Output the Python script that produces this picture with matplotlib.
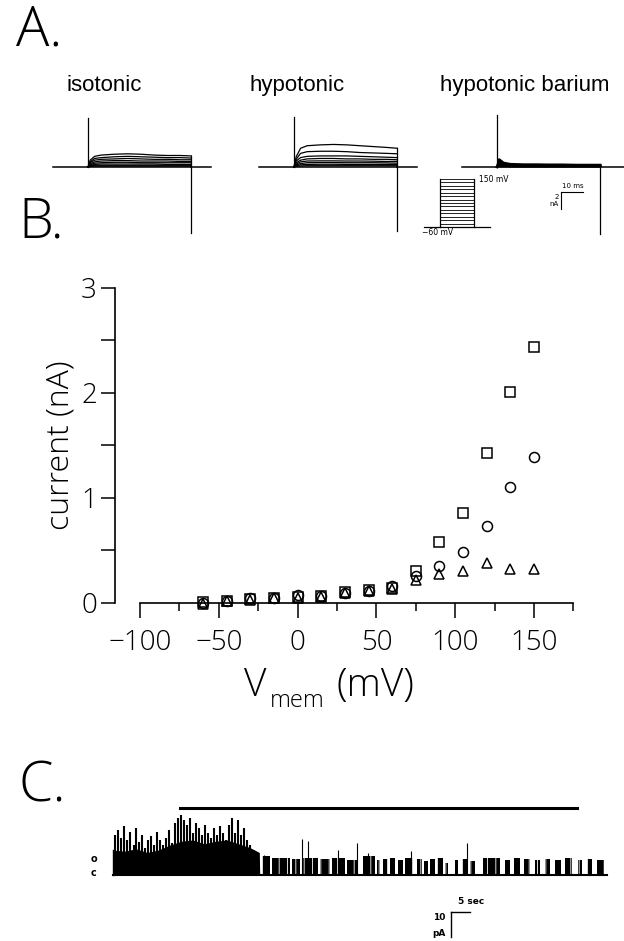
import matplotlib
matplotlib.use('Agg')
import matplotlib.pyplot as plt
from matplotlib import font_manager as fm

W, H = 624, 941

# ---- panel A: whole-cell currents (nA), sampled at these times after step onset (ms)
trace_t = [0, 1, 3, 6, 12, 18, 24, 30, 36, 42, 47]
iso_traces = [
    [0, 0.8, 1.25, 1.4, 1.5, 1.55, 1.5, 1.4, 1.35, 1.35, 1.3],
    [0, 0.6, 1.0, 1.1, 1.2, 1.25, 1.2, 1.15, 1.1, 1.1, 1.05],
    [0, 0.5, 0.8, 0.9, 0.95, 1.0, 0.95, 0.9, 0.9, 0.85, 0.85],
    [0, 0.35, 0.6, 0.7, 0.75, 0.75, 0.7, 0.7, 0.7, 0.65, 0.65],
    [0, 0.25, 0.45, 0.5, 0.55, 0.55, 0.5, 0.5, 0.5, 0.5, 0.5],
    [0, 0.15, 0.3, 0.35, 0.35, 0.35, 0.35, 0.35, 0.3, 0.3, 0.3],
    [0, 0.1, 0.2, 0.2, 0.2, 0.2, 0.2, 0.2, 0.2, 0.2, 0.2],
    [0, 0.05, 0.1, 0.1, 0.1, 0.1, 0.1, 0.1, 0.1, 0.1, 0.1],
]
hypo_traces = [
    [0, 1.2, 2.2, 2.5, 2.6, 2.65, 2.6, 2.5, 2.4, 2.3, 2.2],
    [0, 0.9, 1.6, 1.8, 1.85, 1.85, 1.8, 1.7, 1.65, 1.6, 1.55],
    [0, 0.7, 1.1, 1.25, 1.3, 1.3, 1.3, 1.25, 1.2, 1.15, 1.1],
    [0, 0.5, 0.8, 0.95, 1.0, 1.0, 0.95, 0.95, 0.9, 0.9, 0.85],
    [0, 0.35, 0.6, 0.7, 0.72, 0.72, 0.7, 0.7, 0.68, 0.65, 0.65],
    [0, 0.25, 0.4, 0.5, 0.52, 0.52, 0.5, 0.5, 0.5, 0.48, 0.45],
    [0, 0.15, 0.25, 0.3, 0.32, 0.32, 0.3, 0.3, 0.3, 0.3, 0.3],
    [0, 0.08, 0.12, 0.15, 0.15, 0.15, 0.15, 0.15, 0.15, 0.15, 0.15],
]
barium_traces = [
    [0, 0.9, 0.5, 0.35, 0.3, 0.3, 0.28, 0.28, 0.25, 0.25, 0.25],
    [0, 0.6, 0.3, 0.2, 0.15, 0.15, 0.15, 0.15, 0.12, 0.12, 0.12],
    [0, 0.4, 0.2, 0.1, 0.08, 0.08, 0.08, 0.08, 0.08, 0.08, 0.08],
]
titles = ['isotonic', 'hypotonic', 'hypotonic barium']
on_peak = [5.8, 5.9, 6.1]      # capacity transients (clipped)
off_peak = [-7.8, -7.5, -7.9]
step_ms = 47
protocol_mv = [-60, -45, -30, -15, 0, 15, 30, 45, 60, 75, 90, 105, 120, 135, 150]

# ---- panel B: I-V
vmem = [-60, -45, -30, -15, 0, 15, 30, 45, 60, 75, 90, 105, 120, 135, 150]
cur_square = [0.01, 0.02, 0.04, 0.05, 0.06, 0.07, 0.10, 0.12, 0.14, 0.30, 0.58, 0.86, 1.43, 2.01, 2.44]
cur_circle = [0.0, 0.02, 0.05, 0.05, 0.08, 0.07, 0.095, 0.11, 0.16, 0.26, 0.35, 0.49, 0.73, 1.10, 1.39]
cur_triangle = [-0.01, 0.02, 0.03, 0.05, 0.05, 0.06, 0.095, 0.11, 0.13, 0.22, 0.28, 0.30, 0.38, 0.32, 0.32]

# ---- panel C: single channel record (s, pA)
record_s = 130
dense_t = [0, 3, 6, 9, 12, 15, 18, 21, 24, 27, 30, 33, 36, 38.5, 38.6]
dense_top = [10, 9.5, 10.5, 9, 10, 12, 13.5, 14, 12.5, 13.5, 14, 12.5, 11, 9, 0]
spike_t = [0.5, 1.3, 2.0, 2.9, 3.6, 4.5, 5.4, 6.1, 6.9, 7.6, 8.5, 9.2, 10.0, 10.9, 11.6, 12.3,
           13.2, 14.0, 14.8, 15.5, 16.3, 17.0, 17.9, 18.8, 19.5, 20.2, 21.1, 21.9, 22.6, 23.4,
           24.3, 25.0, 25.8, 26.7, 27.4, 28.1, 28.9, 29.8, 30.5, 31.3, 32.0, 32.9, 33.7, 34.4,
           35.3, 36.1, 36.9, 37.6]
spike_h = [16, 18, 14.8, 19.6, 14, 17.2, 12, 18.8, 13.2, 16, 10.8, 14, 15.6, 12, 17.2, 14,
           12, 15, 18, 13, 21, 23, 24, 22, 20, 22.8, 17, 21, 18.8, 16,
           20, 17, 14.8, 18.8, 16, 19.6, 17, 14, 20, 22.8, 17, 22, 16, 18.8,
           14, 12, 10, 9]
burst_start = [39.2, 41.8, 47.1, 49.7, 54.5, 57.6, 61.6, 65.8, 69.5, 71.1, 72.9, 75.0, 76.8,
               80.0, 81.8, 83.4, 85.3, 87.4, 90.0, 91.8, 93.9, 97.4, 103.2, 105.5, 108.2,
               111.1, 113.7, 116.3, 118.9, 122.4, 124.7, 127.4]
burst_end = [41.3, 46.6, 49.2, 53.9, 57.1, 61.1, 64.5, 68.9, 70.3, 72.4, 74.2, 76.3, 78.9,
             81.3, 82.9, 84.7, 86.8, 88.2, 90.8, 93.4, 95.3, 101.8, 104.5, 107.1, 109.7,
             112.4, 115.0, 117.9, 120.8, 123.4, 126.1, 129.2]
burst_amp = [7.5, 7, 6.5, 7, 6.5, 7, 6, 7.5, 6, 6.5, 7, 6, 7, 6.5, 5.5, 6.5, 7, 5, 6, 6.5,
             5.5, 7, 6, 7, 6.5, 6, 6.5, 6, 7, 6, 6.5, 6]
late_t = [37.0, 39.8, 49.7, 51.3, 59.2, 64.2, 67.1, 78.4, 93.2]
late_h = [10, 8, 14.4, 13.6, 10, 12.8, 8.8, 9.6, 12.8]
drug_bar = [17.6, 122.1]


def pick_light():
    prefs = ['Open Sans', 'Roboto', 'Lato', 'Noto Sans', 'Inter', 'DejaVu Sans']
    for want in (300, 200):
        for fam in prefs:
            for f in fm.fontManager.ttflist:
                w = f.weight
                if isinstance(w, str):
                    w = fm.weight_dict.get(w, 400)
                if (f.name == fam and w == want and f.style == 'normal'
                        and f.stretch == 'normal' and 'ondensed' not in f.fname
                        and 'Narrow' not in f.fname):
                    return f.fname
    return fm.findfont('DejaVu Sans')


LIGHT = pick_light()


def light(size):
    return fm.FontProperties(fname=LIGHT, size=size)


plt.rcParams['hatch.linewidth'] = 0.6
fig = plt.figure(figsize=(W / 100, H / 100), dpi=100)


def px_axes(x0, y0, x1, y1):
    ax = fig.add_axes([x0 / W, 1 - y1 / H, (x1 - x0) / W, (y1 - y0) / H])
    ax.set_axis_off()
    return ax


def ftext(x, y, s, **kw):
    return fig.text(x / W, 1 - y / H, s, **kw)


# panel letters
ftext(16, 4, 'A.', fontproperties=light(40), va='top')
ftext(18, 196, 'B.', fontproperties=light(40), va='top')
ftext(18, 760, 'C.', fontproperties=light(40), va='top')

# ---- A
boxes = [(40, 105, 220, 240), (246, 105, 426, 240), (449, 105, 624, 240)]
title_x = [104, 297, 525]
families = [iso_traces, hypo_traces, barium_traces]
for i, (box, fam) in enumerate(zip(boxes, families)):
    ax = px_axes(*box)
    ax.set_xlim(-21.8, 60 if i < 2 else 57.7)
    ax.set_ylim(-8.59, 7.29)
    ax.plot([-16, 0], [0, 0], color='k', lw=1.1)
    ax.plot([step_ms, 56 if i < 2 else 58], [0, 0], color='k', lw=1.1)
    ax.plot(trace_t, [0] * len(trace_t), color='k', lw=1.1)
    for tr in fam:
        ax.plot(trace_t, tr, color='k', lw=0.9 if i < 2 else 1.6)
    if i == 2:
        ax.fill_between(trace_t, 0, fam[0], color='k', lw=0)
    ax.plot([0, 0], [0, on_peak[i]], color='k', lw=0.9)
    ax.plot([step_ms, step_ms], [max(tr[-1] for tr in fam), off_peak[i]], color='k', lw=0.9)
    ftext(title_x[i], 91, titles[i], family='Liberation Sans', fontsize=16, ha='center')
    if i == 2:
        # scale bar 10 ms / 2 nA
        ax.plot([29.1, 39.1], [-2.94, -2.94], color='k', lw=0.8)
        ax.plot([29.1, 29.1], [-2.94, -4.94], color='k', lw=0.8)
        ax.text(34.5, -2.2, '10 ms', fontsize=5, ha='center', va='center')
        ax.text(27.3, -3.5, '2', fontsize=5, ha='center', va='center')
        ax.text(26.0, -4.3, 'nA', fontsize=5, ha='center', va='center')

# voltage protocol inset
axp = px_axes(415, 170, 515, 240)
axp.set_xlim(-34.6, 103.7)
axp.set_ylim(-116.9, 189.4)
for v in protocol_mv:
    axp.plot([0, step_ms], [v, v], color='k', lw=0.6)
axp.plot([0, 0], [-60, 150], color='k', lw=0.9)
axp.plot([step_ms, step_ms], [-60, 150], color='k', lw=0.9)
axp.plot([-22, 69], [-60, -60], color='k', lw=0.9)
axp.text(54, 148, '150 mV', fontsize=5.5, va='center')
axp.text(-2.8, -84, '\u221260 mV', fontsize=5.5, ha='center', va='center')

# ---- B
axb = fig.add_axes([100 / W, 1 - 620 / H, 490 / W, 342 / H])
axb.patch.set_visible(False)
axb.set_xlim(-125.4, 185.5)
axb.set_ylim(-0.162, 3.095)
for s in ['top', 'right']:
    axb.spines[s].set_visible(False)
axb.spines['left'].set_position(('data', -116))
axb.spines['left'].set_bounds(0, 3)
axb.spines['bottom'].set_position(('data', 0))
axb.spines['bottom'].set_bounds(-100, 175)
for s in ['left', 'bottom']:
    axb.spines[s].set_linewidth(1.2)
xt = [-100, -50, 0, 50, 100, 150]
axb.set_xticks(xt)
axb.set_xticks([-75, -25, 25, 75, 125, 175], minor=True)
axb.set_xticklabels([str(v).replace('-', '\u2212') for v in xt], fontproperties=light(20))
axb.set_yticks([0, 1, 2, 3])
axb.set_yticks([0.5, 1.5, 2.5], minor=True)
axb.set_yticklabels(['0', '1', '2', '3'], fontproperties=light(20))
axb.tick_params(axis='x', which='major', length=11, width=1.1, pad=8)
axb.tick_params(axis='x', which='minor', length=6, width=1.1)
axb.tick_params(axis='y', which='both', length=10, width=1.1, pad=3)

mk = dict(color='k', markerfacecolor='none', linestyle='none', markeredgewidth=1.1, clip_on=False)
axb.plot(vmem, cur_square, marker='s', markersize=6.8, **mk)
axb.plot(vmem, cur_circle, marker='o', markersize=7.2, **mk)
axb.plot(vmem, cur_triangle, marker='^', markersize=7.2, **mk)

ftext(60, 445, 'current (nA)', fontproperties=light(23), rotation=90, ha='center', va='center')
# V_mem (mV) built from pieces so the subscript sits right after the V
fig.canvas.draw()
rend = fig.canvas.get_renderer()
tv = ftext(244, 696, 'V', fontproperties=light(28), va='baseline')
x1 = tv.get_window_extent(rend).x1
tm = ftext(x1 + 3, 707, 'mem', fontproperties=light(17), va='baseline')
x2 = tm.get_window_extent(rend).x1
ftext(x2 + 12, 696, '(mV)', fontproperties=light(28), va='baseline')

# ---- C
axc = px_axes(80, 795, 620, 940)
axc.set_xlim(-8.68, 133.4)
axc.set_ylim(-26, 32)
axc.plot([0, record_s], [0, 0], color='k', lw=1.5)
axc.fill_between(dense_t, 0, dense_top, color='k', lw=0)
axc.vlines(spike_t, 0, spike_h, color='k', lw=1.5)
for s, e, a in zip(burst_start, burst_end, burst_amp):
    # white hatching gives the flicker seen inside each burst
    axc.fill_between([s, e], 0, a, facecolor='k', edgecolor='white', hatch='||', lw=0)
axc.vlines(late_t, 0, late_h, color='k', lw=0.8)
axc.plot([0, 0], [0, dense_top[0]], color='k', lw=1)
axc.plot(drug_bar, [26.8, 26.8], color='k', lw=2.2)
axc.text(-5, 6.5, 'o', fontsize=7, fontweight='bold', ha='center', va='center')
axc.text(-5, 0.6, 'c', fontsize=7, fontweight='bold', ha='center', va='center')
# scale bar 5 s / 10 pA
axc.plot([88.9, 93.9], [-14.8, -14.8], color='k', lw=1)
axc.plot([88.9, 88.9], [-14.8, -24.8], color='k', lw=1)
axc.text(94.2, -10.8, '5 sec', fontsize=6.5, fontweight='bold', ha='center', va='center')
axc.text(87.5, -16.8, '10', fontsize=6.5, fontweight='bold', ha='right', va='center')
axc.text(87.5, -23.2, 'pA', fontsize=6.5, fontweight='bold', ha='right', va='center')

fig.savefig('out.png', dpi=100)
